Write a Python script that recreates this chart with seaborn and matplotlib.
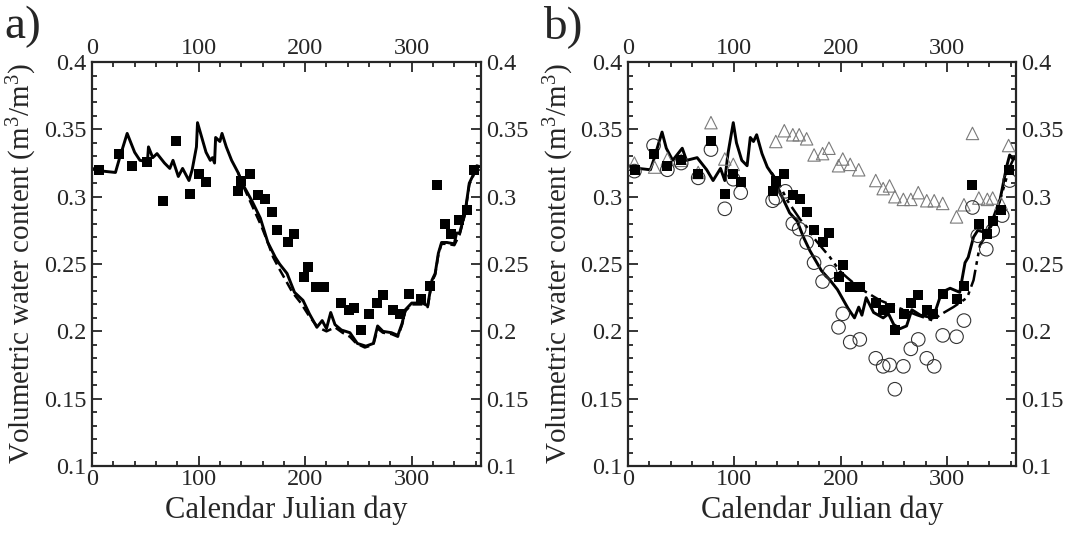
import numpy as np
import pandas as pd
import matplotlib
matplotlib.use("Agg")
import matplotlib.pyplot as plt
import seaborn as sns
from matplotlib.ticker import MultipleLocator, FixedLocator, FuncFormatter

# ---- data ----
# panel a) model 1 (solid)
day_a1 = [0, 10, 22, 26, 33, 40, 45, 52, 53, 57, 61, 68, 73, 76, 81, 85, 91, 94, 98, 99, 103, 107,
          111, 113, 115, 116, 120, 122, 126, 131, 137, 143, 150, 158, 165, 172, 176, 183, 190, 198,
          204, 211, 216, 220, 224, 228, 234, 242, 249, 257, 264, 268, 273, 281, 287, 291, 294, 300,
          310, 315, 319, 322, 325, 328, 333, 340, 342, 345, 350, 354, 357, 361, 365]
swc_a1 = [0.321, 0.319, 0.318, 0.329, 0.347, 0.333, 0.327, 0.326, 0.337, 0.329, 0.332, 0.325, 0.321,
          0.327, 0.315, 0.321, 0.312, 0.320, 0.337, 0.355, 0.344, 0.333, 0.327, 0.329, 0.325, 0.344,
          0.341, 0.347, 0.337, 0.327, 0.318, 0.307, 0.297, 0.284, 0.266, 0.255, 0.250, 0.243, 0.229,
          0.223, 0.213, 0.203, 0.208, 0.202, 0.214, 0.205, 0.201, 0.199, 0.191, 0.189, 0.191, 0.204,
          0.200, 0.199, 0.197, 0.206, 0.216, 0.221, 0.221, 0.219, 0.238, 0.243, 0.258, 0.266, 0.266,
          0.265, 0.273, 0.273, 0.288, 0.310, 0.315, 0.323, 0.322]
# panel a) model 2 (dashed), mostly hidden under model 1
day_a2 = [137, 143, 151, 159, 164, 170, 176, 181, 188, 196, 204, 212, 220, 228, 235, 242, 248,
          256, 264, 268, 273, 281, 287, 291, 294, 300, 310, 315, 319, 322, 325, 328, 333, 340, 345,
          350, 354, 357, 361, 365]
swc_a2 = [0.318, 0.306, 0.292, 0.278, 0.268, 0.255, 0.246, 0.239, 0.229, 0.221, 0.211, 0.203,
          0.200, 0.203, 0.199, 0.196, 0.191, 0.188, 0.190, 0.202, 0.199, 0.198, 0.196, 0.205, 0.215,
          0.220, 0.220, 0.218, 0.237, 0.242, 0.257, 0.265, 0.265, 0.264, 0.272, 0.287, 0.309, 0.314,
          0.322, 0.321]
# panel a) observations (filled squares)
obs_day_a = [7, 25, 38, 52, 67, 79, 92, 100, 107, 137, 140, 148, 156, 162, 169, 174, 184, 190, 199,
             203, 210, 218, 234, 241, 246, 252, 260, 267, 273, 282, 289, 297, 309, 317, 324, 331,
             337, 344, 352, 358]
obs_swc_a = [0.320, 0.332, 0.323, 0.326, 0.297, 0.341, 0.302, 0.317, 0.311, 0.304, 0.312, 0.317,
             0.301, 0.298, 0.289, 0.275, 0.266, 0.272, 0.240, 0.248, 0.233, 0.233, 0.221, 0.216,
             0.217, 0.201, 0.213, 0.221, 0.227, 0.216, 0.213, 0.228, 0.224, 0.234, 0.309, 0.280,
             0.272, 0.283, 0.290, 0.320]

# panel b) model (solid)
day_b1 = [0, 10, 21, 24, 32, 36, 42, 51, 55, 65, 74, 80, 87, 91, 94, 99, 102, 107, 112, 115, 118,
          121, 126, 131, 137, 143, 152, 159, 165, 171, 182, 190, 197, 207, 213, 217, 220, 224, 231,
          240, 245, 250, 256, 262, 267, 275, 287, 295, 303, 312, 317, 320, 325, 329, 338, 343, 350,
          356, 359, 362, 365]
swc_b1 = [0.323, 0.321, 0.320, 0.327, 0.348, 0.336, 0.327, 0.336, 0.327, 0.329, 0.320, 0.312, 0.321,
          0.312, 0.332, 0.355, 0.340, 0.327, 0.323, 0.344, 0.341, 0.346, 0.332, 0.322, 0.315, 0.303,
          0.288, 0.282, 0.270, 0.260, 0.245, 0.238, 0.231, 0.217, 0.210, 0.218, 0.212, 0.225, 0.214,
          0.210, 0.213, 0.205, 0.202, 0.204, 0.216, 0.212, 0.210, 0.229, 0.232, 0.229, 0.251, 0.255,
          0.270, 0.275, 0.273, 0.283, 0.298, 0.322, 0.331, 0.328, 0.330]
# panel b) model (dash-dot-dot)
day_b2 = [135, 143, 150, 162, 171, 174, 190, 199, 206, 218, 237, 256, 272, 287, 293, 306, 319, 325,
          331, 338, 343, 352, 359, 362, 365]
swc_b2 = [0.318, 0.308, 0.297, 0.283, 0.275, 0.270, 0.255, 0.245, 0.240, 0.232, 0.223, 0.217, 0.212,
          0.208, 0.212, 0.218, 0.225, 0.238, 0.264, 0.273, 0.280, 0.303, 0.322, 0.327, 0.330]
# panel b) observations: squares, circles, triangles
obs_day_b = [7, 24, 37, 50, 66, 78, 91, 99, 106, 136, 139, 147, 155, 162, 168, 175, 183, 189, 198,
             202, 209, 218, 233, 240, 246, 251, 260, 266, 273, 281, 287, 296, 309, 316, 324, 330,
             338, 343, 351, 358]
obs_swc_b = [0.320, 0.332, 0.323, 0.327, 0.317, 0.341, 0.302, 0.317, 0.311, 0.304, 0.312, 0.317,
             0.301, 0.298, 0.289, 0.275, 0.266, 0.273, 0.240, 0.249, 0.233, 0.233, 0.221, 0.216,
             0.217, 0.201, 0.213, 0.221, 0.227, 0.216, 0.213, 0.228, 0.224, 0.234, 0.309, 0.280,
             0.272, 0.282, 0.290, 0.320]
circ_day = [6, 24, 37, 50, 66, 78, 91, 99, 106, 136, 139, 148, 155, 161, 168, 175, 183, 190, 198,
            202, 209, 218, 233, 240, 246, 251, 259, 266, 273, 281, 288, 296, 309, 316, 324, 329,
            337, 343, 352, 359]
circ_swc = [0.319, 0.338, 0.320, 0.325, 0.314, 0.335, 0.291, 0.313, 0.303, 0.297, 0.299, 0.304,
            0.280, 0.276, 0.266, 0.251, 0.237, 0.244, 0.203, 0.213, 0.192, 0.194, 0.180, 0.174,
            0.175, 0.157, 0.174, 0.187, 0.194, 0.180, 0.174, 0.197, 0.196, 0.208, 0.292, 0.271,
            0.261, 0.275, 0.286, 0.312]
tri_day = [6, 25, 37, 50, 66, 78, 91, 99, 139, 147, 155, 161, 168, 175, 183, 189, 198, 202, 209,
           217, 233, 240, 246, 251, 259, 266, 273, 281, 288, 296, 309, 316, 324, 330, 338, 343,
           351, 358]
tri_swc = [0.325, 0.322, 0.328, 0.327, 0.318, 0.355, 0.328, 0.324, 0.341, 0.349, 0.346, 0.346,
           0.343, 0.331, 0.332, 0.336, 0.323, 0.328, 0.324, 0.320, 0.312, 0.306, 0.308, 0.300,
           0.298, 0.298, 0.303, 0.297, 0.297, 0.295, 0.285, 0.294, 0.347, 0.299, 0.298, 0.299,
           0.295, 0.338]

sns.set_style("ticks")
plt.rcParams['font.family'] = ['Liberation Serif', 'DejaVu Serif']
plt.rcParams['mathtext.fontset'] = 'custom'
plt.rcParams['mathtext.rm'] = 'Liberation Serif'
plt.rcParams['mathtext.it'] = 'Liberation Serif:italic'

fig = plt.figure(figsize=(10.71, 5.35), dpi=100)
ax1 = fig.add_axes([0.0859, 0.129, 0.3632, 0.755])
ax2 = fig.add_axes([0.5864, 0.129, 0.3623, 0.755])

# panel a
sns.lineplot(x=day_a2, y=swc_a2, ax=ax1, color='k', lw=1.8, linestyle=(0, (4, 2)),
             sort=False, estimator=None)
sns.lineplot(x=day_a1, y=swc_a1, ax=ax1, color='k', lw=2.1, sort=False, estimator=None)
sns.scatterplot(x=obs_day_a, y=obs_swc_a, ax=ax1, marker='s', s=42, color='k', linewidth=0,
                zorder=5)

# panel b
sns.scatterplot(x=tri_day, y=tri_swc, ax=ax2, marker='^', s=80, facecolors='none',
                edgecolors='#7a7a7a', linewidth=0.8, zorder=4)
sns.scatterplot(x=circ_day, y=circ_swc, ax=ax2, marker='o', s=95, facecolors='none',
                edgecolors='#333333', linewidth=0.8, zorder=4)
sns.lineplot(x=day_b2, y=swc_b2, ax=ax2, color='k', lw=1.8,
             linestyle=(0, (7, 2, 1.5, 2, 1.5, 2)), sort=False, estimator=None)
sns.lineplot(x=day_b1, y=swc_b1, ax=ax2, color='k', lw=2.1, sort=False, estimator=None)
sns.scatterplot(x=obs_day_b, y=obs_swc_b, ax=ax2, marker='s', s=42, color='k', linewidth=0,
                zorder=5)

fmt = FuncFormatter(lambda v, p: '%g' % round(v, 3))
for ax in (ax1, ax2):
    ax.set_xlim(0, 365)
    ax.set_ylim(0.1, 0.4)
    ax.xaxis.set_major_locator(FixedLocator([0, 100, 200, 300]))
    ax.xaxis.set_minor_locator(MultipleLocator(20))
    ax.yaxis.set_major_locator(MultipleLocator(0.05))
    ax.yaxis.set_minor_locator(MultipleLocator(0.01))
    ax.yaxis.set_major_formatter(fmt)
    ax.tick_params(which='both', direction='in', top=True, right=True,
                   labeltop=True, labelright=True, width=1.3, labelsize=17.5, pad=2)
    ax.tick_params(axis='y', which='major', pad=4)
    ax.tick_params(which='major', length=7)
    ax.tick_params(which='minor', length=3.5)
    for sp in ax.spines.values():
        sp.set_linewidth(1.6)
    ax.set_xlabel('Calendar Julian day', fontsize=22, labelpad=4)
    ax.set_ylabel('Volumetric water content (m$^3$/m$^3$)', fontsize=21)
    ax.yaxis.set_label_coords(-0.135, 0.5)

fig.text(0.004, 0.99, 'a)', fontsize=34, va='top', ha='left')
fig.text(0.507, 0.99, 'b)', fontsize=34, va='top', ha='left')

fig.savefig('out.png', dpi=100)
